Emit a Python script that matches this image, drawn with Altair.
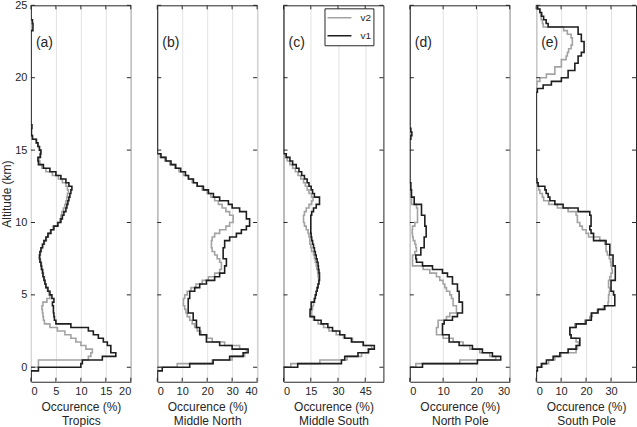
import altair as alt
import pandas as pd

FONT = "Liberation Sans"
INK = "#262626"
GRID = "#e2e2e2"
COL_V1 = "#1e1e1e"
COL_V2 = "#a3a3a3"
H = 377
W = 100

STEP = 0.25
BASE = -1.0
TOP = 25.0
Y_TICKS = [0, 5, 10, 15, 20, 25]

# Occurrence (%) per 0.25 km altitude bin, first bin starts at -1 km (4 bins per row = 1 km)
A_V1 = [0, 0, 0, 1.5,
        10.0, 10.3, 14.3, 17.0,
        16.0, 16.0, 15.3, 14.5,
        13.5, 12.5, 11.5, 8.0,
        5.0, 4.7, 4.6, 4.5,
        4.5, 4.3, 4.6, 4.2,
        3.8, 3.4, 3.0, 2.8,
        2.6, 2.4, 2.3, 2.1,
        2.0, 1.8, 1.7, 1.8,
        2.0, 2.3, 2.6, 3.0,
        3.4, 4.0, 4.6, 5.4,
        6.0, 6.3, 6.6, 7.0,
        7.2, 7.4, 7.6, 7.8,
        8.0, 8.2, 7.6, 7.0,
        6.0, 5.0, 3.8, 2.5,
        1.5, 1.4, 1.9, 2.0,
        1.7, 1.4, 1.1, 0.3,
        0.1, 0.1, 0.2]
A_V1_UP_START = 23.25
A_V1_UP = [0.4, 0.4, 0.3]
A_V2 = [0, 0, 0, 0,
        1.5, 1.5, 11.5, 12.0,
        12.3, 11.0, 10.0, 9.0,
        8.0, 6.8, 5.3, 3.8,
        2.7, 2.5, 2.4, 2.3,
        2.2, 2.4, 3.2, 3.8,
        3.6, 3.3, 3.0, 2.8,
        2.7, 2.5, 2.4, 2.2,
        2.1, 1.9, 1.8, 1.9,
        2.1, 2.4, 2.7, 3.1,
        3.5, 3.9, 4.4, 5.3,
        5.8, 6.0, 6.2, 6.5,
        6.8, 7.0, 7.2, 7.3,
        7.5, 7.3, 7.0, 6.3,
        5.5, 4.3, 3.0, 2.2,
        1.8, 1.6, 1.8, 1.9,
        1.7, 1.4, 1.0, 0.3]

B_V1 = [0, 0, 0, 2.0,
        13.0, 22.4, 29.0, 34.4,
        36.4, 30.0, 25.0, 19.7,
        19.7, 17.0, 17.0, 15.7,
        15.7, 14.4, 14.4, 12.4,
        12.4, 12.4, 12.4, 13.0,
        13.0, 15.0, 17.0, 19.7,
        23.0, 25.0, 27.0, 27.0,
        27.7, 27.7, 26.4, 26.4,
        26.4, 27.0, 27.0, 29.0,
        31.7, 33.7, 35.7, 37.0,
        37.0, 35.7, 35.7, 33.0,
        30.0, 28.5, 25.0, 22.5,
        20.5, 18.5, 16.0, 14.5,
        12.5, 11.3, 9.4, 7.4,
        5.5, 3.5, 1.5]
B_V2 = [0, 0, 0, 0,
        8.0, 22.0, 30.0, 35.0,
        35.7, 33.0, 27.0, 22.0,
        20.0, 17.5, 16.0, 15.0,
        14.0, 13.0, 12.0, 11.5,
        11.0, 10.5, 10.5, 11.0,
        12.0, 13.5, 15.5, 18.0,
        20.5, 23.0, 25.0, 25.7,
        25.7, 25.0, 24.0, 23.0,
        22.0, 21.7, 21.7, 22.0,
        23.0, 25.0, 27.5, 29.0,
        30.4, 30.4, 29.0, 27.5,
        26.0, 24.5, 23.0, 21.5,
        20.0, 18.0, 16.0, 14.0,
        12.5, 10.5, 8.7, 7.0,
        5.0, 3.0, 1.2]

C_V1 = [0, 0, 0, 0,
        7.8, 31.9, 33.7, 41.0,
        46.7, 50.0, 43.9, 37.4,
        33.7, 31.0, 27.0, 24.4,
        20.7, 17.0, 14.6, 14.6,
        15.2, 15.2, 17.0, 17.5,
        18.0, 18.5, 19.0, 19.5,
        19.8, 19.8, 19.5, 19.2,
        19.0, 18.5, 18.0, 17.5,
        17.0, 16.5, 16.0, 15.5,
        15.2, 15.0, 15.0, 15.0,
        15.0, 15.0, 15.5, 16.5,
        18.0, 19.8, 19.8, 17.0,
        16.0, 15.2, 14.0, 13.0,
        11.5, 10.0, 8.5, 7.0,
        5.0, 3.5, 1.5]
C_V2 = [0, 0, 0, 0,
        4.0, 20.0, 35.0, 43.0,
        47.0, 48.5, 44.0, 38.0,
        33.0, 29.0, 25.0, 22.0,
        19.0, 16.5, 15.5, 15.5,
        16.0, 16.5, 17.0, 17.5,
        18.0, 18.5, 19.0, 19.3,
        19.3, 19.0, 18.8, 18.3,
        18.0, 17.5, 17.0, 16.5,
        15.5, 15.0, 14.5, 14.5,
        14.0, 13.5, 12.5, 11.5,
        11.0, 11.0, 11.5, 12.5,
        14.0, 15.5, 16.2, 15.5,
        14.0, 13.0, 12.0, 11.0,
        9.5, 8.0, 6.5, 5.0,
        3.5, 2.0, 0.8]

D_V1 = [0, 0, 0, 0,
        3.8, 20.3, 27.3, 24.8,
        21.8, 18.8, 14.8, 11.8,
        11.8, 9.8, 9.8, 9.8,
        10.3, 12.8, 14.3, 15.8,
        15.8, 15.8, 14.8, 14.8,
        14.8, 14.3, 14.3, 12.8,
        12.8, 11.3, 9.8, 6.8,
        3.8, 2.0, 1.8, 3.3,
        3.3, 4.3, 4.3, 4.3,
        4.9, 4.9, 4.9, 4.5,
        4.5, 4.5, 3.5, 3.5,
        3.5, 1.3, 1.3, 0.5,
        0.5, 0.3, 0.3]
D_V1_UP_START = 15.75
D_V1_UP = [0.3, 0.6, 0.3]
D_V2 = [0, 0, 0, 0,
        1.8, 15.0, 25.8, 24.0,
        21.0, 18.0, 16.0, 13.0,
        10.0, 8.0, 8.0, 8.5,
        8.5, 11.0, 12.0, 14.0,
        14.0, 13.0, 13.0, 12.5,
        12.0, 11.0, 10.5, 10.0,
        9.0, 8.0, 6.0, 4.0,
        0.8, 0.8, 0.8, 1.5,
        2.0, 1.8, 1.5, 1.0,
        0.8, 0.7, 0.8, 1.5,
        2.3, 2.3, 2.3, 2.3,
        2.0, 0.5, 0.5, 0.3,
        0.2]

E_V1 = [0, 0, 0, 0.5,
        2.1, 4.1, 6.8, 9.5,
        12.8, 16.0, 17.5, 17.5,
        14.0, 13.5, 13.5, 16.0,
        20.0, 22.1, 22.1, 24.8,
        27.5, 31.5, 31.5, 31.5,
        31.0, 30.0, 30.0, 30.0,
        31.7, 31.7, 31.7, 31.7,
        30.8, 30.8, 30.8, 29.5,
        29.5, 29.5, 28.0, 23.0,
        23.0, 22.0, 21.5, 22.0,
        22.0, 22.0, 21.5, 16.8,
        10.8, 7.5, 5.5, 4.8,
        4.0, 3.5, 0.8, 0.3]
E_V1_UP_START = 19.0
E_V1_UP = [0.5, 2.8, 6.1, 10.1,
           12.8, 12.8, 15.5, 15.5,
           16.8, 16.8, 18.1, 19.2,
           19.2, 19.2, 18.1, 18.1,
           16.8, 16.8, 4.8, 4.0,
           3.0, 2.2, 1.5, 0.5]
E_V2 = [0, 0, 0, 0,
        2.5, 5.0, 7.5, 10.0,
        16.0, 16.5, 17.0, 16.0,
        14.0, 13.5, 13.5, 15.5,
        19.5, 21.5, 22.5, 24.5,
        27.0, 28.8, 29.0, 29.0,
        29.3, 29.5, 29.0, 29.0,
        29.5, 30.0, 30.5, 30.3,
        30.0, 29.8, 29.3, 28.5,
        28.0, 28.0, 27.5, 25.5,
        21.0, 20.0, 18.5, 17.5,
        16.5, 16.5, 16.0, 12.8,
        8.5, 5.0, 3.0, 2.5,
        1.5, 1.0, 0.5]
E_V2_UP_START = 19.5
E_V2_UP = [0.3, 1.5,
           4.1, 7.5, 7.5, 10.1,
           10.1, 12.0, 12.5, 13.0,
           14.0, 14.5, 14.5, 14.0,
           12.5, 11.0, 2.8, 2.5,
           2.0, 1.8, 1.5, 0.8]

TAGS = ["(a)", "(b)", "(c)", "(d)", "(e)"]
REGIONS = ["Tropics", "Middle North", "Middle South", "North Pole", "South Pole"]
XMAX = [20, 40, 55, 30, 40]
XTICKS = [[0, 5, 10, 15, 20], [0, 10, 20, 30, 40], [0, 15, 30, 45], [0, 10, 20, 30], [0, 10, 20, 30]]
TAG_ALT = 22.4

N = int(round((TOP - BASE) / STEP))
ALTS = [BASE + STEP * i for i in range(N)] + [TOP]


def series(lower, up_start=None, up=None):
    vals = [0.0] * N
    for i, v in enumerate(lower):
        vals[i] = float(v)
    if up is not None:
        k = int(round((up_start - BASE) / STEP))
        for j, v in enumerate(up):
            vals[k + j] = float(v)
    return vals + [vals[-1]]


V1 = [series(A_V1, A_V1_UP_START, A_V1_UP), series(B_V1), series(C_V1),
      series(D_V1, D_V1_UP_START, D_V1_UP), series(E_V1, E_V1_UP_START, E_V1_UP)]
V2 = [series(A_V2), series(B_V2), series(C_V2), series(D_V2),
      series(E_V2, E_V2_UP_START, E_V2_UP)]

LEGEND = alt.Legend(title=None, orient="none", legendX=294, legendY=3,
                    symbolType="stroke", symbolSize=576, symbolStrokeWidth=1.6,
                    clipHeight=15, labelFontSize=10, labelFont=FONT, labelColor=INK,
                    strokeColor=INK, fillColor="white", padding=2,
                    rowPadding=3, labelOffset=8)


def panel(i):
    w = W
    rows = []
    for ver, vals in (("v2", V2[i]), ("v1", V1[i])):
        for a, v in zip(ALTS, vals):
            rows.append({"alt": a, "occ": v, "ver": ver})
    df = pd.DataFrame(rows)
    xs = alt.Scale(domain=[0, XMAX[i]], nice=False, zero=False)
    ys = alt.Scale(domain=[BASE, TOP], nice=False, zero=False)
    xaxis = alt.Axis(values=XTICKS[i], grid=True, gridColor=GRID, gridWidth=1,
                     ticks=False, domain=False, labelPadding=4,
                     title=["Occurence (%)", REGIONS[i]], titlePadding=5)
    if i == 0:
        yaxis = alt.Axis(values=Y_TICKS, grid=False, ticks=False, domain=False,
                         labelPadding=4, title="Altitude (km)", titlePadding=1)
    else:
        yaxis = None
    X = lambda: alt.X("occ:Q", scale=xs, axis=xaxis)
    Y = lambda: alt.Y("alt:Q", scale=ys, axis=yaxis)
    color = alt.Color("ver:N", scale=alt.Scale(domain=["v2", "v1"], range=[COL_V2, COL_V1]),
                      legend=LEGEND)
    layers = []
    for ver in ("v2", "v1"):
        layers.append(
            alt.Chart(df).transform_filter(alt.datum.ver == ver)
            .mark_line(interpolate="step-before", strokeWidth=1.6, clip=True)
            .encode(x=X(), y=Y(), color=color, order=alt.Order("alt:Q"))
        )
    ydf = pd.DataFrame({"alt": Y_TICKS})
    xdf = pd.DataFrame({"occ": XTICKS[i]})
    rule = dict(color=INK, strokeWidth=1)
    layers.append(alt.Chart(ydf).mark_rule(**rule).encode(
        y=Y(), x=alt.value(0), x2=alt.value(4)))
    layers.append(alt.Chart(ydf).mark_rule(**rule).encode(
        y=Y(), x=alt.value(w - 4), x2=alt.value(w)))
    layers.append(alt.Chart(xdf).mark_rule(**rule).encode(
        x=X(), y=alt.value(0), y2=alt.value(4)))
    layers.append(alt.Chart(xdf).mark_rule(**rule).encode(
        x=X(), y=alt.value(H - 4), y2=alt.value(H)))
    tdf = pd.DataFrame({"alt": [TAG_ALT], "lab": [TAGS[i]]})
    layers.append(alt.Chart(tdf).mark_text(align="left", baseline="middle", fontSize=14,
                                           font=FONT, color=INK).encode(
        y=Y(), x=alt.value(5), text="lab:N"))
    return alt.layer(*layers).properties(width=w, height=H)


chart = alt.hconcat(*[panel(i) for i in range(5)], spacing=26.5, bounds="flush").properties(
    padding={"left": 0, "top": -2, "right": 0, "bottom": 0},
    background="white",
).configure_view(stroke=INK, strokeWidth=1).configure_axis(
    labelFont=FONT, titleFont=FONT, labelFontSize=11, titleFontSize=12,
    labelColor=INK, titleColor=INK, titleFontWeight="normal", titleLineHeight=14,
).configure_text(font=FONT)

chart.save("out.html", embed_options={"renderer": "svg", "actions": False})
